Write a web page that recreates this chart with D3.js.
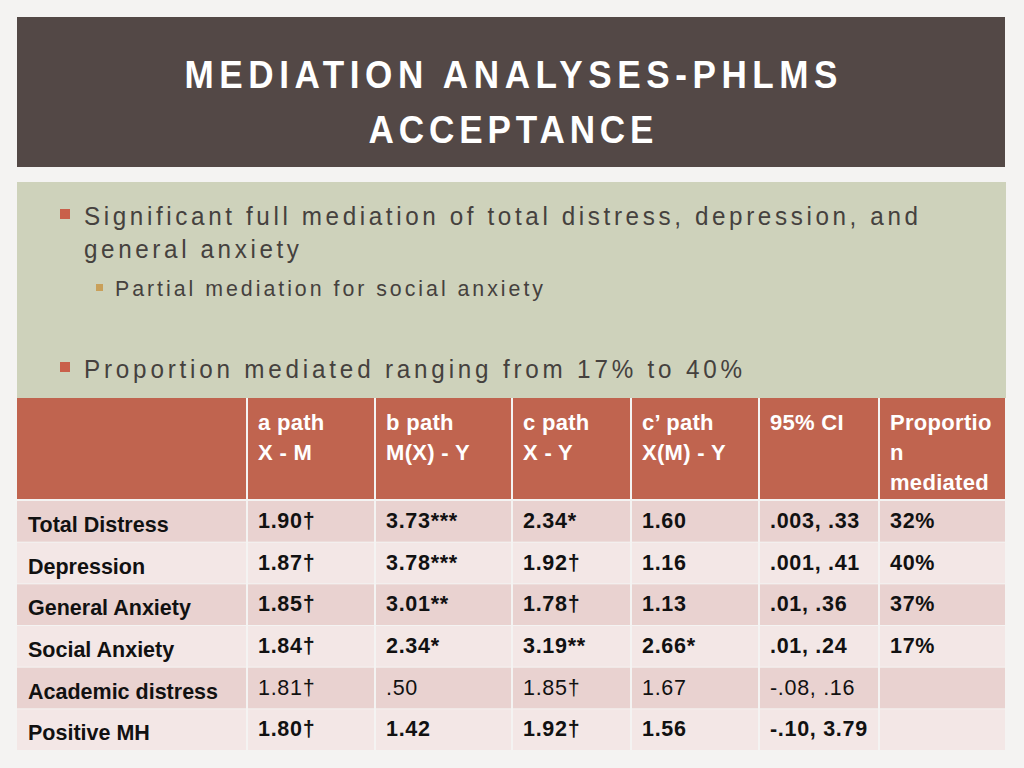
<!DOCTYPE html>
<html>
<head>
<meta charset="utf-8">
<script src="https://cdn.jsdelivr.net/npm/d3@7"></script>
<style>
  html, body { margin: 0; padding: 0; background: #f4f3f2; }
  svg { display: block; }
</style>
</head>
<body>
<div id="chart"></div>
<script>
// ---- data ----
const titleLines = ["MEDIATION ANALYSES-PHLMS", "ACCEPTANCE"];
const bulletLines = [
  "Significant full mediation of total distress, depression, and",
  "general anxiety"
];
const subBullet = "Partial mediation for social anxiety";
const bullet2 = "Proportion mediated ranging from 17% to 40%";

const headerLabels = [
  [""],
  ["a path", "X - M"],
  ["b path", "M(X) - Y"],
  ["c path", "X - Y"],
  ["c’ path", "X(M) - Y"],
  ["95% CI"],
  ["Proportio", "n", "mediated"]
];
const rowLabels = ["Total Distress", "Depression", "General Anxiety", "Social Anxiety", "Academic distress", "Positive MH"];
const aPath = ["1.90†", "1.87†", "1.85†", "1.84†", "1.81†", "1.80†"];
const bPath = ["3.73***", "3.78***", "3.01**", "2.34*", ".50", "1.42"];
const cPath = ["2.34*", "1.92†", "1.78†", "3.19**", "1.85†", "1.92†"];
const cPrimePath = ["1.60", "1.16", "1.13", "2.66*", "1.67", "1.56"];
const ci95 = [".003, .33", ".001, .41", ".01, .36", ".01, .24", "-.08, .16", "-.10, 3.79"];
const propMediated = ["32%", "40%", "37%", "17%", "", ""];
const regularWeightRows = ["Academic distress"];

// ---- layout ----
const W = 1024, H = 768;
const colEdges = [17, 247, 375, 512, 631, 759, 879, 1006];
const headerTop = 398, headerBottom = 500, tableBottom = 750;
const C = {
  title: "#534846", sage: "#ced2bb", header: "#c0644f",
  rowDark: "#e9d2d0", rowLight: "#f3e7e6", text: "#45413e",
  bullet: "#c9604a", sub: "#c9a05a"
};
const baseFont = "'Liberation Sans', Arial, sans-serif";

const svg = d3.select("#chart").append("svg").attr("width", W).attr("height", H);
svg.append("rect").attr("width", W).attr("height", H).attr("fill", "#f4f3f2");

// condensed + letter-spaced text helper (horizontal scale, then fit to a length)
function condText(sel, opts) {
  const g = sel.append("g")
    .attr("transform", `translate(${opts.x},${opts.y}) scale(${opts.sx},1)`);
  g.append("text")
    .attr("x", 0).attr("y", 0)
    .attr("text-anchor", opts.anchor || "start")
    .attr("textLength", opts.len / opts.sx).attr("lengthAdjust", "spacing")
    .attr("fill", opts.fill).attr("font-family", baseFont)
    .attr("font-size", opts.fs).attr("font-weight", opts.weight || "normal")
    .text(opts.text);
}

// title band
svg.append("rect").attr("x", 17).attr("y", 17).attr("width", 988).attr("height", 150).attr("fill", C.title);
const titleLen = [653, 285];
titleLines.forEach((t, i) => condText(svg, {
  x: 511, y: 88 + i * 55, sx: 0.9, len: titleLen[i], anchor: "middle",
  fill: "#ffffff", fs: 39, weight: "bold", text: t
}));

// content band
svg.append("rect").attr("x", 17).attr("y", 182).attr("width", 989).attr("height", 216).attr("fill", C.sage);

const bullets = [
  { t: bulletLines[0], x: 84, y: 225, len: 834, fs: 25, mark: true },
  { t: bulletLines[1], x: 84, y: 258, len: 215, fs: 25, mark: false },
  { t: subBullet, x: 115, y: 296, len: 428, fs: 22, mark: false, sub: true },
  { t: bullet2, x: 84, y: 378, len: 658, fs: 25, mark: true }
];
bullets.forEach(b => condText(svg, {
  x: b.x, y: b.y, sx: 0.97, len: b.len, fill: C.text, fs: b.fs, weight: "normal", text: b.t
}));
svg.selectAll("rect.mark").data(bullets.filter(d => d.mark)).join("rect")
  .attr("class", "mark")
  .attr("x", 60).attr("y", d => d.y - 16).attr("width", 10).attr("height", 10)
  .attr("fill", C.bullet);
svg.selectAll("rect.submark").data(bullets.filter(d => d.sub)).join("rect")
  .attr("class", "submark")
  .attr("x", 96).attr("y", d => d.y - 12).attr("width", 7).attr("height", 7)
  .attr("fill", C.sub);

// ---- table ----
const columns = [rowLabels, aPath, bPath, cPath, cPrimePath, ci95, propMediated];
const colIdx = d3.range(columns.length);
const xCol = d3.scaleOrdinal().domain(colIdx).range(colEdges.slice(0, -1));
const wCol = d3.scaleOrdinal().domain(colIdx).range(colEdges.slice(1).map((e, i) => e - colEdges[i]));
const yRow = d3.scaleBand().domain(d3.range(rowLabels.length)).range([headerBottom, tableBottom]);

const gap = 1;
// header cells
const hdr = svg.append("g");
hdr.selectAll("rect").data(colIdx).join("rect")
  .attr("x", i => xCol(i) + (i ? gap : 0)).attr("y", headerTop)
  .attr("width", i => wCol(i) - (i ? gap : 0) - gap).attr("height", headerBottom - headerTop - gap)
  .attr("fill", C.header);
hdr.selectAll("text").data(colIdx).join("text")
  .attr("x", i => xCol(i) + 11).attr("y", 430)
  .attr("fill", "#ffffff").attr("font-family", baseFont).attr("font-weight", "bold").attr("font-size", 22)
  .attr("letter-spacing", 0.3)
  .selectAll("tspan").data(i => headerLabels[i].map(t => ({ t, x: xCol(i) + 11 }))).join("tspan")
  .attr("x", d => d.x).attr("dy", (d, k) => k ? 30 : 0)
  .text(d => d.t);

// body cells
const cells = [];
rowLabels.forEach((lab, r) => colIdx.forEach(c => cells.push({ r, c, v: columns[c][r], lab })));
const body = svg.append("g");
body.selectAll("rect").data(cells).join("rect")
  .attr("x", d => xCol(d.c) + (d.c ? gap : 0)).attr("y", d => yRow(d.r) + gap)
  .attr("width", d => wCol(d.c) - (d.c ? gap : 0) - gap).attr("height", yRow.bandwidth() - gap)
  .attr("fill", d => d.r % 2 === 0 ? C.rowDark : C.rowLight);
body.selectAll("text").data(cells).join("text")
  .attr("x", d => xCol(d.c) + 11)
  .attr("y", d => yRow(d.r) + (d.c === 0 ? 32 : 28))
  .attr("fill", "#111111").attr("font-family", baseFont).attr("font-size", 21.5)
  .attr("letter-spacing", d => d.c === 0 ? 0 : 0.7)
  .attr("font-weight", d => (d.c > 0 && regularWeightRows.includes(d.lab)) ? "normal" : "bold")
  .text(d => d.v);
</script>
</body>
</html>
